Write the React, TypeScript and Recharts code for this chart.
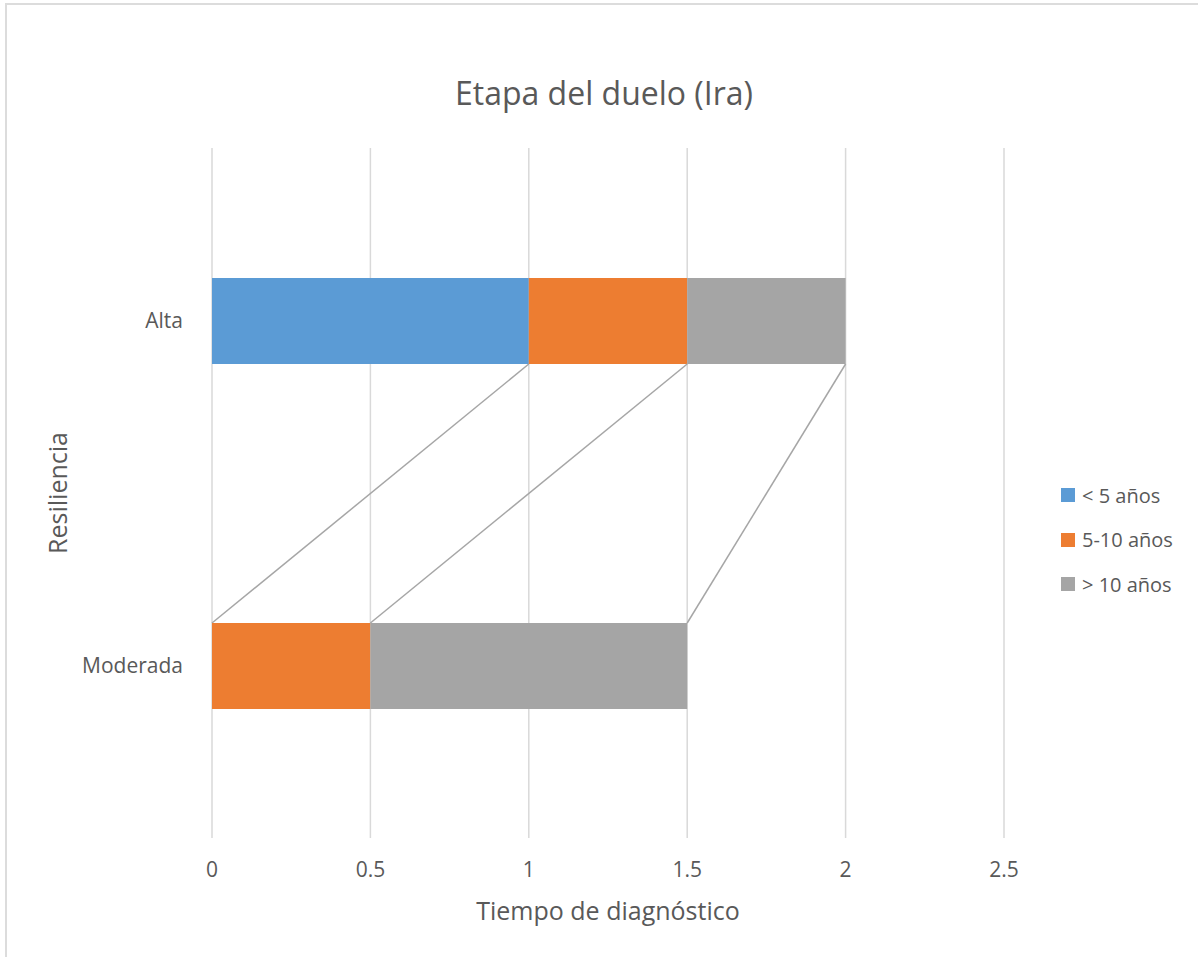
import { Bar, BarChart, CartesianGrid, Legend, XAxis, YAxis } from "recharts"

const categories = ["Alta", "Moderada"]
const menosDe5 = [1, 0]
const de5a10 = [0.5, 0.5]
const masDe10 = [0.5, 1]
const xTicks = [0, 0.5, 1, 1.5, 2, 2.5]

const series = [
    { key: "menosDe5", name: "< 5 años", color: "#5b9bd5", values: menosDe5 },
    { key: "de5a10", name: "5-10 años", color: "#ed7d31", values: de5a10 },
    { key: "masDe10", name: "> 10 años", color: "#a5a5a5", values: masDe10 },
]

const data = categories.map((name, i) => {
    const row: Record<string, string | number> = { name }
    series.forEach((s) => {
        row[s.key] = s.values[i]
    })
    return row
})

const font = "'Open Sans', sans-serif"
const textColor = "#595959"

// right end of each segment in the first row, used to draw the series lines
const ends: Record<string, { x: number; y: number }> = {}

function segmentShape(key: string) {
    return (props: any) => {
        const { x, y, width, height, fill, index } = props
        const right = x + width
        let link = null
        if (index === 0) {
            ends[key] = { x: right, y: y + height }
        } else if (ends[key]) {
            link = (
                <line
                    x1={ends[key].x}
                    y1={ends[key].y}
                    x2={right}
                    y2={y}
                    stroke="#a6a6a6"
                    strokeWidth={1.5}
                />
            )
        }
        return (
            <g>
                {width > 0 && <rect x={x} y={y} width={width} height={height} fill={fill} />}
                {link}
            </g>
        )
    }
}

// keep legend entries in series order
const legendOrder = (item: any) => series.findIndex((s) => s.name === item.value)

function LegendList(props: any) {
    const items = props.payload || []
    return (
        <div style={{ fontFamily: font, fontSize: 20, color: textColor }}>
            {items.map((item: any) => (
                <div
                    key={item.value}
                    style={{ height: 44.5, display: "flex", alignItems: "center" }}
                >
                    <span
                        style={{
                            width: 14,
                            height: 14,
                            background: item.color,
                            display: "inline-block",
                            marginRight: 7,
                        }}
                    />
                    <span>{item.value}</span>
                </div>
            ))}
        </div>
    )
}

export default function App() {
    return (
        <div style={{ position: "absolute", left: 0, top: 0, width: 1198, height: 957, background: "#fff" }}>
            <div
                style={{
                    position: "absolute",
                    left: 5,
                    top: 3,
                    width: 1193,
                    height: 954,
                    borderLeft: "2px solid #dcdcdc",
                    borderTop: "2px solid #dcdcdc",
                    boxSizing: "border-box",
                }}
            />
            <div
                style={{
                    position: "absolute",
                    left: 0,
                    top: 77,
                    width: 1208,
                    textAlign: "center",
                    fontFamily: font,
                    fontSize: 32,
                    lineHeight: "32px",
                    color: textColor,
                }}
            >
                Etapa del duelo (Ira)
            </div>
            <BarChart
                width={1198}
                height={957}
                data={data}
                layout="vertical"
                margin={{ top: 148, right: 194, bottom: 79, left: 0 }}
                style={{ position: "absolute", left: 0, top: 0 }}
            >
                <CartesianGrid horizontal={false} stroke="#d9d9d9" strokeWidth={1.5} />
                <XAxis
                    type="number"
                    domain={[0, 2.5]}
                    ticks={xTicks}
                    height={40}
                    axisLine={false}
                    tickLine={false}
                    tickSize={0}
                    tickMargin={24}
                    tick={{ fill: textColor, fontSize: 21, fontFamily: font }}
                    label={{
                        value: "Tiempo de diagnóstico",
                        position: "bottom",
                        offset: 24,
                        fill: textColor,
                        fontSize: 25,
                        fontFamily: font,
                    }}
                />
                <YAxis
                    type="category"
                    dataKey="name"
                    width={212}
                    axisLine={false}
                    tickLine={false}
                    tickSize={0}
                    tickMargin={29}
                    tick={{ fill: textColor, fontSize: 21, fontFamily: font }}
                    label={{
                        value: "Resiliencia",
                        angle: -90,
                        position: "insideLeft",
                        offset: 58,
                        fill: textColor,
                        fontSize: 25,
                        fontFamily: font,
                        style: { textAnchor: "middle" },
                    }}
                />
                <Legend
                    layout="horizontal"
                    verticalAlign="middle"
                    align="center"
                    itemSorter={legendOrder}
                    content={<LegendList />}
                    wrapperStyle={{ left: 1061, top: 473, width: 137 }}
                />
                {series.map((s) => (
                    <Bar
                        key={s.key}
                        dataKey={s.key}
                        name={s.name}
                        stackId="total"
                        fill={s.color}
                        barSize={86}
                        shape={segmentShape(s.key)}
                        isAnimationActive={false}
                    />
                ))}
            </BarChart>
        </div>
    )
}
